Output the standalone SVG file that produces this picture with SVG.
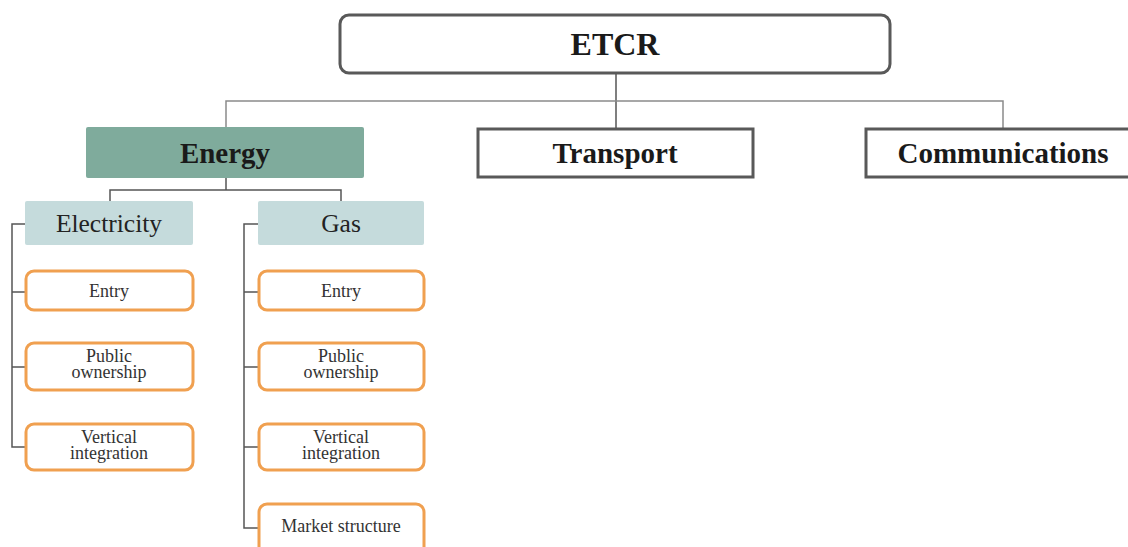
<svg xmlns="http://www.w3.org/2000/svg" width="1128" height="547" viewBox="0 0 1128 547">
  <style>
    .top { fill: #ffffff; stroke: #595959; stroke-width: 3; }
    .sector { fill: #ffffff; stroke: #595959; stroke-width: 3; }
    .energy { fill: #7fab9c; }
    .sub { fill: #c5dbdc; }
    .ind { fill: #ffffff; stroke: #f0a050; stroke-width: 3; }
    .conn { fill: none; stroke: #555555; stroke-width: 1.5; }
    .connlight { fill: none; stroke: #8a8a8a; stroke-width: 1.5; }
    text { font-family: "Liberation Serif", "DejaVu Serif", serif; text-anchor: middle; fill: #1a1a1a; }
    .t1 { font-size: 32px; font-weight: bold; }
    .t2 { font-size: 29px; font-weight: bold; }
    .t3 { font-size: 25.5px; fill: #222222; }
    .t4 { font-size: 18px; fill: #333333; }
  </style>

  <!-- connectors -->
  <g id="connectors">
    <path class="conn" d="M616,73 V128"/>
    <path class="connlight" d="M226,127 V101 H1003 V128"/>
    <path class="conn" d="M226,178 V190 M110,201 V190 H341 V201"/>
    <!-- electricity bracket -->
    <path class="conn" d="M25,224 H12 V447 H26 M12,292 H26 M12,367 H26"/>
    <!-- gas bracket -->
    <path class="conn" d="M258,224 H244 V528 H259 M244,292 H259 M244,367 H259 M244,447 H259"/>
  </g>

  <g id="etcr">
    <rect class="top" x="340" y="15" width="550" height="58" rx="9"/>
    <text class="t1" x="615" y="55">ETCR</text>
  </g>

  <g id="energy">
    <rect class="energy" x="86" y="127" width="278" height="51" rx="2"/>
    <text class="t2" x="225" y="163">Energy</text>
  </g>

  <g id="transport">
    <rect class="sector" x="478" y="129" width="275" height="48"/>
    <text class="t2" x="615" y="163">Transport</text>
  </g>

  <g id="communications">
    <rect class="sector" x="866" y="129" width="270" height="48"/>
    <text class="t2" x="1003" y="163">Communications</text>
  </g>

  <g id="electricity">
    <rect class="sub" x="25" y="201" width="168" height="44" rx="2"/>
    <text class="t3" x="109" y="232">Electricity</text>
  </g>

  <g id="gas">
    <rect class="sub" x="258" y="201" width="166" height="44" rx="2"/>
    <text class="t3" x="341" y="232">Gas</text>
  </g>

  <!-- electricity indicators -->
  <g id="el-entry">
    <rect class="ind" x="26" y="271" width="167" height="39" rx="8"/>
    <text class="t4" x="109" y="297">Entry</text>
  </g>
  <g id="el-public">
    <rect class="ind" x="26" y="343" width="167" height="47" rx="8"/>
    <text class="t4" x="109" y="362">Public</text>
    <text class="t4" x="109" y="378">ownership</text>
  </g>
  <g id="el-vertical">
    <rect class="ind" x="26" y="424" width="167" height="46" rx="8"/>
    <text class="t4" x="109" y="443">Vertical</text>
    <text class="t4" x="109" y="459">integration</text>
  </g>

  <!-- gas indicators -->
  <g id="gas-entry">
    <rect class="ind" x="259" y="271" width="165" height="39" rx="8"/>
    <text class="t4" x="341" y="297">Entry</text>
  </g>
  <g id="gas-public">
    <rect class="ind" x="259" y="343" width="165" height="47" rx="8"/>
    <text class="t4" x="341" y="362">Public</text>
    <text class="t4" x="341" y="378">ownership</text>
  </g>
  <g id="gas-vertical">
    <rect class="ind" x="259" y="424" width="165" height="46" rx="8"/>
    <text class="t4" x="341" y="443">Vertical</text>
    <text class="t4" x="341" y="459">integration</text>
  </g>
  <g id="gas-market">
    <rect class="ind" x="259" y="504" width="165" height="52" rx="8"/>
    <text class="t4" x="341" y="532">Market structure</text>
  </g>
</svg>
